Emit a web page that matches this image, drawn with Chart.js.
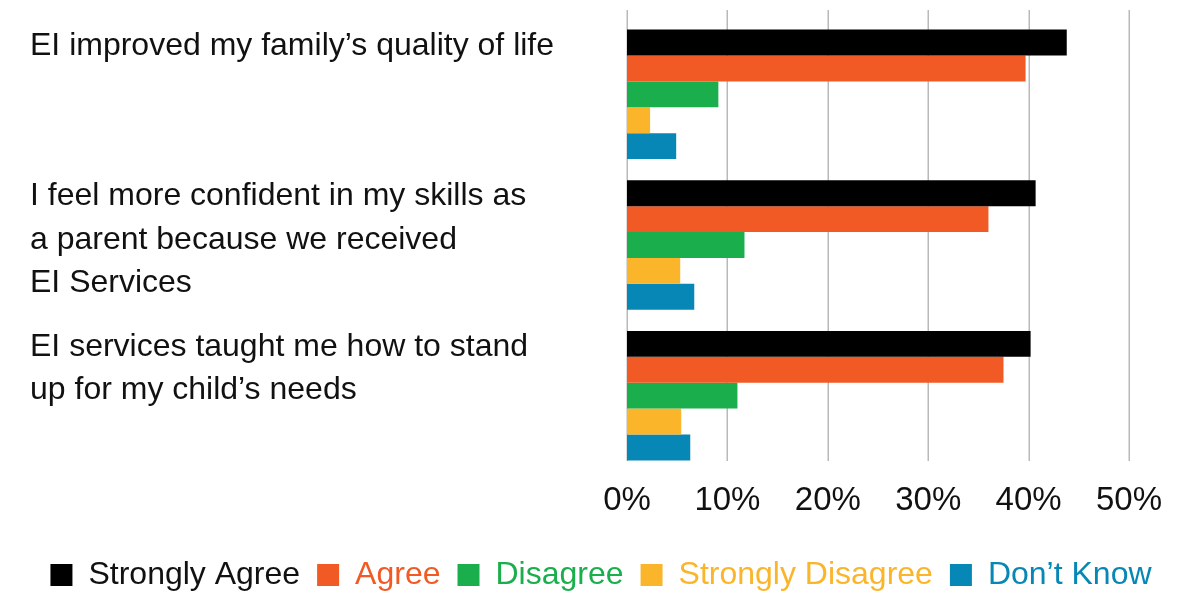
<!DOCTYPE html>
<html>
<head>
<meta charset="utf-8">
<script src="https://cdn.jsdelivr.net/npm/chart.js@4/dist/chart.umd.min.js"></script>
<style>
  html, body { margin: 0; padding: 0; background: #ffffff; }
  #wrap { width: 1192px; height: 591px; position: relative; }
</style>
</head>
<body>
<div id="wrap"><canvas id="c"></canvas></div>
<script>
// ---- data ----
const categories = [
  ["EI improved my family\u2019s quality of life"],
  ["I feel more confident in my skills as", "a parent because we received", "EI Services"],
  ["EI services taught me how to stand", "up for my child\u2019s needs"]
];
const seriesNames = ["Strongly Agree", "Agree", "Disagree", "Strongly Disagree", "Don\u2019t Know"];
const stronglyAgree    = [43.8, 40.7, 40.2];
const agree            = [39.7, 36.0, 37.5];
const disagree         = [9.1, 11.7, 11.0];
const stronglyDisagree = [2.3, 5.3, 5.4];
const dontKnow         = [4.9, 6.7, 6.3];
const xTicks = [0, 10, 20, 30, 40, 50];

// ---- styles ----
const colors = ["#000000", "#F15A24", "#1AAE4C", "#FBB52B", "#0787B5"];
const legendTextColors = ["#111111", "#F15A24", "#1AAE4C", "#FBB52B", "#0787B5"];
const FONT = "'Liberation Sans', Arial, Helvetica, sans-serif";

const seriesValues = [stronglyAgree, agree, disagree, stronglyDisagree, dontKnow];
const padLines = (lines) => { const out = lines.slice(); while (out.length < 3) out.push(""); return out; };

const gridPlugin = {
  id: 'customGrid',
  beforeDatasetsDraw(chart) {
    const x = chart.scales.x, area = chart.chartArea, ctx = chart.ctx;
    ctx.save();
    ctx.strokeStyle = '#b9b9b9';
    ctx.lineWidth = 1.5;
    xTicks.forEach(v => {
      const px = Math.round(x.getPixelForValue(v)) + 0.25;
      ctx.beginPath();
      ctx.moveTo(px, area.top - 9);
      ctx.lineTo(px, area.bottom - 10);
      ctx.stroke();
    });
    ctx.restore();
  }
};

new Chart(document.getElementById('c'), {
  type: 'bar',
  data: {
    labels: categories.map(padLines),
    datasets: seriesNames.map((name, i) => ({
      label: name,
      data: seriesValues[i],
      backgroundColor: colors[i],
      borderWidth: 0,
      barPercentage: 1.0,
      categoryPercentage: 0.86
    }))
  },
  plugins: [gridPlugin],
  options: {
    indexAxis: 'y',
    responsive: true,
    maintainAspectRatio: false,
    animation: false,
    devicePixelRatio: 1,
    layout: { padding: { left: 30, right: 20, top: 19, bottom: -10 } },
    scales: {
      x: {
        min: 0, max: 50,
        grid: { display: false, drawTicks: false },
        border: { display: false },
        afterBuildTicks: (scale) => { scale.ticks = xTicks.map(v => ({ value: v })); },
        afterFit: (scale) => { scale.height = 71; },
        ticks: {
          padding: 10,
          color: '#111111',
          font: { family: FONT, size: 33 },
          callback: (v) => v + '%'
        }
      },
      y: {
        grid: { display: false, drawTicks: false },
        border: { display: false },
        afterFit: (scale) => { scale.width = 597; scale.paddingTop = 0; scale.paddingBottom = 0; },
        ticks: {
          autoSkip: false,
          crossAlign: 'far',
          labelOffset: -5,
          padding: 0,
          color: '#111111',
          font: { family: FONT, size: 32, lineHeight: 1.36 }
        }
      },
      yRight: {
        type: 'category',
        position: 'right',
        display: true,
        grid: { display: false, drawTicks: false },
        border: { display: false },
        ticks: { display: false },
        afterFit: (scale) => { scale.width = 43; }
      }
    },
    plugins: {
      tooltip: { enabled: false },
      legend: {
        position: 'bottom',
        labels: {
          boxWidth: 22,
          boxHeight: 22,
          padding: 17,
          font: { family: FONT, size: 32 },
          generateLabels: (chart) => {
            const items = Chart.defaults.plugins.legend.labels.generateLabels(chart);
            items.forEach((it, i) => { it.fontColor = legendTextColors[i]; it.lineWidth = 0; it.strokeStyle = 'rgba(0,0,0,0)'; });
            return items;
          }
        }
      }
    }
  }
});
</script>
</body>
</html>
